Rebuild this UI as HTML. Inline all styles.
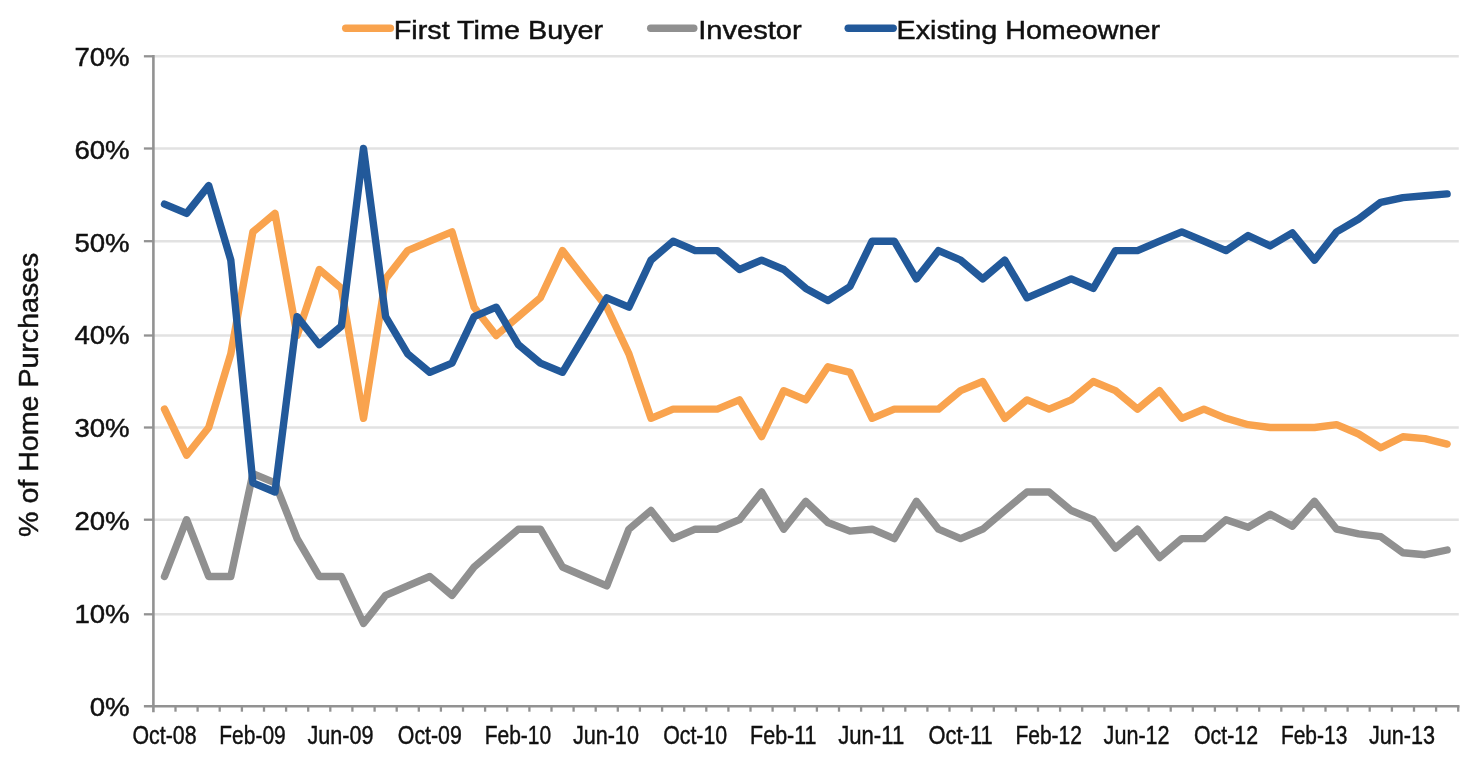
<!DOCTYPE html>
<html lang="en"><head><meta charset="utf-8"><title>Home Purchases by Buyer Type</title>
<style>html,body{margin:0;padding:0;background:#fff;}body{width:1480px;height:768px;overflow:hidden;}svg{display:block;}text{font-family:"Liberation Sans", Arial, Helvetica, sans-serif;fill:#111;stroke:#111;stroke-width:0.45px;}</style></head><body>
<svg width="1480" height="768" viewBox="0 0 1480 768">
<rect width="1480" height="768" fill="#fff"/>
<line x1="153.4" y1="56.3" x2="1458.8" y2="56.3" stroke="#E2E2E2" stroke-width="2.5"/>
<line x1="153.4" y1="148.5" x2="1458.8" y2="148.5" stroke="#E2E2E2" stroke-width="2.5"/>
<line x1="153.4" y1="241.2" x2="1458.8" y2="241.2" stroke="#E2E2E2" stroke-width="2.5"/>
<line x1="153.4" y1="335.5" x2="1458.8" y2="335.5" stroke="#E2E2E2" stroke-width="2.5"/>
<line x1="153.4" y1="427.5" x2="1458.8" y2="427.5" stroke="#E2E2E2" stroke-width="2.5"/>
<line x1="153.4" y1="519.7" x2="1458.8" y2="519.7" stroke="#E2E2E2" stroke-width="2.5"/>
<line x1="153.4" y1="614.3" x2="1458.8" y2="614.3" stroke="#E2E2E2" stroke-width="2.5"/>
<line x1="153.4" y1="55.0" x2="153.4" y2="712.3" stroke="#929292" stroke-width="2.6"/>
<line x1="143.9" y1="706.3" x2="1459.5" y2="706.3" stroke="#929292" stroke-width="2.6"/>
<line x1="143.9" y1="56.3" x2="153.4" y2="56.3" stroke="#929292" stroke-width="2.3"/>
<line x1="143.9" y1="148.5" x2="153.4" y2="148.5" stroke="#929292" stroke-width="2.3"/>
<line x1="143.9" y1="241.2" x2="153.4" y2="241.2" stroke="#929292" stroke-width="2.3"/>
<line x1="143.9" y1="335.5" x2="153.4" y2="335.5" stroke="#929292" stroke-width="2.3"/>
<line x1="143.9" y1="427.5" x2="153.4" y2="427.5" stroke="#929292" stroke-width="2.3"/>
<line x1="143.9" y1="519.7" x2="153.4" y2="519.7" stroke="#929292" stroke-width="2.3"/>
<line x1="143.9" y1="614.3" x2="153.4" y2="614.3" stroke="#929292" stroke-width="2.3"/>
<line x1="175.5" y1="706.3" x2="175.5" y2="711.7" stroke="#929292" stroke-width="2.3"/>
<line x1="197.6" y1="706.3" x2="197.6" y2="711.7" stroke="#929292" stroke-width="2.3"/>
<line x1="219.7" y1="706.3" x2="219.7" y2="711.7" stroke="#929292" stroke-width="2.3"/>
<line x1="241.9" y1="706.3" x2="241.9" y2="711.7" stroke="#929292" stroke-width="2.3"/>
<line x1="264.0" y1="706.3" x2="264.0" y2="711.7" stroke="#929292" stroke-width="2.3"/>
<line x1="286.1" y1="706.3" x2="286.1" y2="711.7" stroke="#929292" stroke-width="2.3"/>
<line x1="308.2" y1="706.3" x2="308.2" y2="711.7" stroke="#929292" stroke-width="2.3"/>
<line x1="330.3" y1="706.3" x2="330.3" y2="711.7" stroke="#929292" stroke-width="2.3"/>
<line x1="352.4" y1="706.3" x2="352.4" y2="711.7" stroke="#929292" stroke-width="2.3"/>
<line x1="374.6" y1="706.3" x2="374.6" y2="711.7" stroke="#929292" stroke-width="2.3"/>
<line x1="396.7" y1="706.3" x2="396.7" y2="711.7" stroke="#929292" stroke-width="2.3"/>
<line x1="418.8" y1="706.3" x2="418.8" y2="711.7" stroke="#929292" stroke-width="2.3"/>
<line x1="440.9" y1="706.3" x2="440.9" y2="711.7" stroke="#929292" stroke-width="2.3"/>
<line x1="463.0" y1="706.3" x2="463.0" y2="711.7" stroke="#929292" stroke-width="2.3"/>
<line x1="485.1" y1="706.3" x2="485.1" y2="711.7" stroke="#929292" stroke-width="2.3"/>
<line x1="507.2" y1="706.3" x2="507.2" y2="711.7" stroke="#929292" stroke-width="2.3"/>
<line x1="529.4" y1="706.3" x2="529.4" y2="711.7" stroke="#929292" stroke-width="2.3"/>
<line x1="551.5" y1="706.3" x2="551.5" y2="711.7" stroke="#929292" stroke-width="2.3"/>
<line x1="573.6" y1="706.3" x2="573.6" y2="711.7" stroke="#929292" stroke-width="2.3"/>
<line x1="595.7" y1="706.3" x2="595.7" y2="711.7" stroke="#929292" stroke-width="2.3"/>
<line x1="617.8" y1="706.3" x2="617.8" y2="711.7" stroke="#929292" stroke-width="2.3"/>
<line x1="639.9" y1="706.3" x2="639.9" y2="711.7" stroke="#929292" stroke-width="2.3"/>
<line x1="662.1" y1="706.3" x2="662.1" y2="711.7" stroke="#929292" stroke-width="2.3"/>
<line x1="684.2" y1="706.3" x2="684.2" y2="711.7" stroke="#929292" stroke-width="2.3"/>
<line x1="706.3" y1="706.3" x2="706.3" y2="711.7" stroke="#929292" stroke-width="2.3"/>
<line x1="728.4" y1="706.3" x2="728.4" y2="711.7" stroke="#929292" stroke-width="2.3"/>
<line x1="750.5" y1="706.3" x2="750.5" y2="711.7" stroke="#929292" stroke-width="2.3"/>
<line x1="772.6" y1="706.3" x2="772.6" y2="711.7" stroke="#929292" stroke-width="2.3"/>
<line x1="794.7" y1="706.3" x2="794.7" y2="711.7" stroke="#929292" stroke-width="2.3"/>
<line x1="816.9" y1="706.3" x2="816.9" y2="711.7" stroke="#929292" stroke-width="2.3"/>
<line x1="839.0" y1="706.3" x2="839.0" y2="711.7" stroke="#929292" stroke-width="2.3"/>
<line x1="861.1" y1="706.3" x2="861.1" y2="711.7" stroke="#929292" stroke-width="2.3"/>
<line x1="883.2" y1="706.3" x2="883.2" y2="711.7" stroke="#929292" stroke-width="2.3"/>
<line x1="905.3" y1="706.3" x2="905.3" y2="711.7" stroke="#929292" stroke-width="2.3"/>
<line x1="927.4" y1="706.3" x2="927.4" y2="711.7" stroke="#929292" stroke-width="2.3"/>
<line x1="949.5" y1="706.3" x2="949.5" y2="711.7" stroke="#929292" stroke-width="2.3"/>
<line x1="971.7" y1="706.3" x2="971.7" y2="711.7" stroke="#929292" stroke-width="2.3"/>
<line x1="993.8" y1="706.3" x2="993.8" y2="711.7" stroke="#929292" stroke-width="2.3"/>
<line x1="1015.9" y1="706.3" x2="1015.9" y2="711.7" stroke="#929292" stroke-width="2.3"/>
<line x1="1038.0" y1="706.3" x2="1038.0" y2="711.7" stroke="#929292" stroke-width="2.3"/>
<line x1="1060.1" y1="706.3" x2="1060.1" y2="711.7" stroke="#929292" stroke-width="2.3"/>
<line x1="1082.2" y1="706.3" x2="1082.2" y2="711.7" stroke="#929292" stroke-width="2.3"/>
<line x1="1104.4" y1="706.3" x2="1104.4" y2="711.7" stroke="#929292" stroke-width="2.3"/>
<line x1="1126.5" y1="706.3" x2="1126.5" y2="711.7" stroke="#929292" stroke-width="2.3"/>
<line x1="1148.6" y1="706.3" x2="1148.6" y2="711.7" stroke="#929292" stroke-width="2.3"/>
<line x1="1170.7" y1="706.3" x2="1170.7" y2="711.7" stroke="#929292" stroke-width="2.3"/>
<line x1="1192.8" y1="706.3" x2="1192.8" y2="711.7" stroke="#929292" stroke-width="2.3"/>
<line x1="1214.9" y1="706.3" x2="1214.9" y2="711.7" stroke="#929292" stroke-width="2.3"/>
<line x1="1237.0" y1="706.3" x2="1237.0" y2="711.7" stroke="#929292" stroke-width="2.3"/>
<line x1="1259.2" y1="706.3" x2="1259.2" y2="711.7" stroke="#929292" stroke-width="2.3"/>
<line x1="1281.3" y1="706.3" x2="1281.3" y2="711.7" stroke="#929292" stroke-width="2.3"/>
<line x1="1303.4" y1="706.3" x2="1303.4" y2="711.7" stroke="#929292" stroke-width="2.3"/>
<line x1="1325.5" y1="706.3" x2="1325.5" y2="711.7" stroke="#929292" stroke-width="2.3"/>
<line x1="1347.6" y1="706.3" x2="1347.6" y2="711.7" stroke="#929292" stroke-width="2.3"/>
<line x1="1369.7" y1="706.3" x2="1369.7" y2="711.7" stroke="#929292" stroke-width="2.3"/>
<line x1="1391.9" y1="706.3" x2="1391.9" y2="711.7" stroke="#929292" stroke-width="2.3"/>
<line x1="1414.0" y1="706.3" x2="1414.0" y2="711.7" stroke="#929292" stroke-width="2.3"/>
<line x1="1436.1" y1="706.3" x2="1436.1" y2="711.7" stroke="#929292" stroke-width="2.3"/>
<line x1="1458.2" y1="706.3" x2="1458.2" y2="711.7" stroke="#929292" stroke-width="2.3"/>
<text x="129.7" y="65.8" font-size="25" text-anchor="end" textLength="55.3" lengthAdjust="spacingAndGlyphs">70%</text>
<text x="129.7" y="158.7" font-size="25" text-anchor="end" textLength="55.3" lengthAdjust="spacingAndGlyphs">60%</text>
<text x="129.7" y="251.5" font-size="25" text-anchor="end" textLength="55.3" lengthAdjust="spacingAndGlyphs">50%</text>
<text x="129.7" y="344.4" font-size="25" text-anchor="end" textLength="55.3" lengthAdjust="spacingAndGlyphs">40%</text>
<text x="129.7" y="437.2" font-size="25" text-anchor="end" textLength="55.3" lengthAdjust="spacingAndGlyphs">30%</text>
<text x="129.7" y="530.1" font-size="25" text-anchor="end" textLength="55.3" lengthAdjust="spacingAndGlyphs">20%</text>
<text x="129.7" y="622.9" font-size="25" text-anchor="end" textLength="55.3" lengthAdjust="spacingAndGlyphs">10%</text>
<text x="129.7" y="715.8" font-size="25" text-anchor="end" textLength="40.0" lengthAdjust="spacingAndGlyphs">0%</text>
<text x="164.5" y="743.7" font-size="25.5" stroke-width="0.2" text-anchor="middle" textLength="64.0" lengthAdjust="spacingAndGlyphs">Oct-08</text>
<text x="252.5" y="743.7" font-size="25.5" stroke-width="0.2" text-anchor="middle" textLength="66.4" lengthAdjust="spacingAndGlyphs">Feb-09</text>
<text x="340.5" y="743.7" font-size="25.5" stroke-width="0.2" text-anchor="middle" textLength="66.0" lengthAdjust="spacingAndGlyphs">Jun-09</text>
<text x="429.8" y="743.7" font-size="25.5" stroke-width="0.2" text-anchor="middle" textLength="64.0" lengthAdjust="spacingAndGlyphs">Oct-09</text>
<text x="517.9" y="743.7" font-size="25.5" stroke-width="0.2" text-anchor="middle" textLength="66.4" lengthAdjust="spacingAndGlyphs">Feb-10</text>
<text x="605.9" y="743.7" font-size="25.5" stroke-width="0.2" text-anchor="middle" textLength="66.0" lengthAdjust="spacingAndGlyphs">Jun-10</text>
<text x="695.2" y="743.7" font-size="25.5" stroke-width="0.2" text-anchor="middle" textLength="64.0" lengthAdjust="spacingAndGlyphs">Oct-10</text>
<text x="783.3" y="743.7" font-size="25.5" stroke-width="0.2" text-anchor="middle" textLength="66.4" lengthAdjust="spacingAndGlyphs">Feb-11</text>
<text x="871.2" y="743.7" font-size="25.5" stroke-width="0.2" text-anchor="middle" textLength="66.0" lengthAdjust="spacingAndGlyphs">Jun-11</text>
<text x="960.6" y="743.7" font-size="25.5" stroke-width="0.2" text-anchor="middle" textLength="64.0" lengthAdjust="spacingAndGlyphs">Oct-11</text>
<text x="1048.7" y="743.7" font-size="25.5" stroke-width="0.2" text-anchor="middle" textLength="66.4" lengthAdjust="spacingAndGlyphs">Feb-12</text>
<text x="1136.6" y="743.7" font-size="25.5" stroke-width="0.2" text-anchor="middle" textLength="66.0" lengthAdjust="spacingAndGlyphs">Jun-12</text>
<text x="1226.0" y="743.7" font-size="25.5" stroke-width="0.2" text-anchor="middle" textLength="64.0" lengthAdjust="spacingAndGlyphs">Oct-12</text>
<text x="1314.1" y="743.7" font-size="25.5" stroke-width="0.2" text-anchor="middle" textLength="66.4" lengthAdjust="spacingAndGlyphs">Feb-13</text>
<text x="1402.0" y="743.7" font-size="25.5" stroke-width="0.2" text-anchor="middle" textLength="66.0" lengthAdjust="spacingAndGlyphs">Jun-13</text>
<text transform="translate(38.3 536.9) rotate(-90)" font-size="28" textLength="284.3" lengthAdjust="spacingAndGlyphs">% of Home Purchases</text>
<path d="M164.5 409.1 L186.6 455.2 L208.7 427.5 L230.8 353.9 L252.9 231.9 L275.0 213.4 L297.1 335.5 L319.3 269.5 L341.4 288.4 L363.5 418.3 L385.6 278.9 L407.7 250.6 L429.8 241.2 L452.0 231.9 L474.1 307.2 L496.2 335.5 L518.3 316.6 L540.4 297.8 L562.5 250.6 L584.6 278.9 L606.8 307.2 L628.9 353.9 L651.0 418.3 L673.1 409.1 L695.2 409.1 L717.3 409.1 L739.5 399.9 L761.6 436.7 L783.7 390.7 L805.8 399.9 L827.9 366.8 L850.0 372.3 L872.1 418.3 L894.3 409.1 L916.4 409.1 L938.5 409.1 L960.6 390.7 L982.7 381.5 L1004.8 418.3 L1027.0 399.9 L1049.1 409.1 L1071.2 399.9 L1093.3 381.5 L1115.4 390.7 L1137.5 409.1 L1159.6 390.7 L1181.8 418.3 L1203.9 409.1 L1226.0 418.3 L1248.1 424.7 L1270.2 427.5 L1292.3 427.5 L1314.5 427.5 L1336.6 424.7 L1358.7 434.0 L1380.8 447.8 L1402.9 436.7 L1425.0 438.6 L1447.1 444.1" fill="none" stroke="#F9A34E" stroke-width="7.4" stroke-linecap="round" stroke-linejoin="round"/>
<path d="M164.5 576.5 L186.6 519.7 L208.7 576.5 L230.8 576.5 L252.9 473.6 L275.0 482.8 L297.1 538.6 L319.3 576.5 L341.4 576.5 L363.5 623.5 L385.6 595.4 L407.7 585.9 L429.8 576.5 L452.0 595.4 L474.1 567.0 L496.2 548.1 L518.3 529.2 L540.4 529.2 L562.5 567.0 L584.6 576.5 L606.8 585.9 L628.9 529.2 L651.0 510.5 L673.1 538.6 L695.2 529.2 L717.3 529.2 L739.5 519.7 L761.6 492.0 L783.7 529.2 L805.8 501.3 L827.9 522.5 L850.0 531.1 L872.1 529.2 L894.3 538.6 L916.4 501.3 L938.5 529.2 L960.6 538.6 L982.7 529.2 L1004.8 510.5 L1027.0 492.0 L1049.1 492.0 L1071.2 510.5 L1093.3 519.7 L1115.4 548.1 L1137.5 529.2 L1159.6 557.5 L1181.8 538.6 L1203.9 538.6 L1226.0 519.7 L1248.1 527.3 L1270.2 514.2 L1292.3 526.3 L1314.5 501.3 L1336.6 529.2 L1358.7 533.9 L1380.8 536.7 L1402.9 552.8 L1425.0 554.7 L1447.1 550.0" fill="none" stroke="#909090" stroke-width="7.4" stroke-linecap="round" stroke-linejoin="round"/>
<path d="M164.5 204.1 L186.6 213.4 L208.7 185.6 L230.8 260.1 L252.9 482.8 L275.0 492.0 L297.1 316.6 L319.3 344.7 L341.4 326.1 L363.5 148.5 L385.6 316.6 L407.7 353.9 L429.8 372.3 L452.0 363.1 L474.1 316.6 L496.2 307.2 L518.3 344.7 L540.4 363.1 L562.5 372.3 L584.6 335.5 L606.8 297.8 L628.9 307.2 L651.0 260.1 L673.1 241.2 L695.2 250.6 L717.3 250.6 L739.5 269.5 L761.6 260.1 L783.7 269.5 L805.8 288.4 L827.9 300.6 L850.0 286.5 L872.1 241.2 L894.3 241.2 L916.4 278.9 L938.5 250.6 L960.6 260.1 L982.7 278.9 L1004.8 260.1 L1027.0 297.8 L1049.1 288.4 L1071.2 278.9 L1093.3 288.4 L1115.4 250.6 L1137.5 250.6 L1159.6 241.2 L1181.8 231.9 L1203.9 241.2 L1226.0 250.6 L1248.1 235.6 L1270.2 245.9 L1292.3 232.9 L1314.5 260.1 L1336.6 231.9 L1358.7 219.0 L1380.8 202.3 L1402.9 197.6 L1425.0 195.8 L1447.1 193.9" fill="none" stroke="#22599A" stroke-width="7.4" stroke-linecap="round" stroke-linejoin="round"/>
<line x1="345.7" y1="28.2" x2="390.4" y2="28.2" stroke="#F9A34E" stroke-width="7.4" stroke-linecap="round"/>
<text x="393.7" y="38.9" font-size="25.6" textLength="209.5" lengthAdjust="spacingAndGlyphs">First Time Buyer</text>
<line x1="650.7" y1="28.2" x2="693.8" y2="28.2" stroke="#909090" stroke-width="7.4" stroke-linecap="round"/>
<text x="698.2" y="38.9" font-size="25.6" textLength="103.5" lengthAdjust="spacingAndGlyphs">Investor</text>
<line x1="848.2" y1="28.2" x2="893.2" y2="28.2" stroke="#22599A" stroke-width="7.4" stroke-linecap="round"/>
<text x="896.6" y="38.9" font-size="25.6" textLength="263.4" lengthAdjust="spacingAndGlyphs">Existing Homeowner</text>
</svg></body></html>
